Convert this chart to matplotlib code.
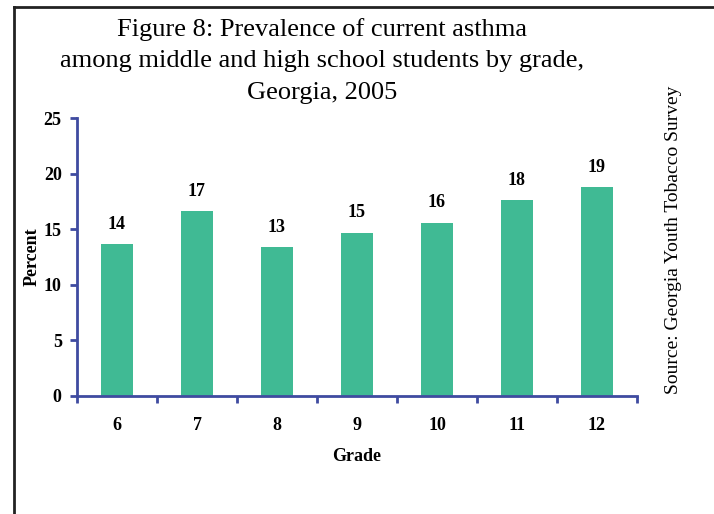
import matplotlib.pyplot as plt
from matplotlib.lines import Line2D

# Plot config
DPI = 100
WIDTH = 714.0
HEIGHT = 514.0
BAR_COLOR = '#40BA94'
AXIS_COLOR = '#3F4BA0'
FONT = 'Liberation Serif'

grades = ['6', '7', '8', '9', '10', '11', '12']
percent = [13.7, 16.6, 13.4, 14.7, 15.6, 17.6, 18.8]
bar_labels = ['14', '17', '13', '15', '16', '18', '19']
yticks = [0, 5, 10, 15, 20, 25]

TITLE = ('Figure 8: Prevalence of current asthma\n'
         'among middle and high school students by grade,\n'
         'Georgia, 2005')
SOURCE = 'Source: Georgia Youth Tobacco Survey'

plt.rcParams['font.family'] = FONT

fig = plt.figure(figsize=(WIDTH / DPI, HEIGHT / DPI), dpi=DPI)
ax = fig.add_axes([77 / WIDTH, 1 - 396 / HEIGHT, 560 / WIDTH, 278 / HEIGHT])

x = list(range(len(grades)))
ax.bar(x, percent, width=0.4, color=BAR_COLOR)
for xi, v, lab in zip(x, percent, bar_labels):
    ax.annotate(lab, (xi, v), xytext=(0, 8), textcoords='offset points',
                ha='center', va='bottom', fontsize=13, fontweight='bold')

ax.set_xlim(-0.5, len(grades) - 0.5)
ax.set_ylim(0, 25)
ax.set_yticks(yticks)
ax.set_yticklabels([str(t) for t in yticks], fontsize=13, fontweight='bold')
ax.set_xticks(x)
ax.set_xticklabels(grades, fontsize=13, fontweight='bold')
ax.set_xticks([i - 0.5 for i in range(len(grades) + 1)], minor=True)
ax.tick_params(axis='x', which='major', length=0, pad=15)
ax.tick_params(axis='x', which='minor', length=5, width=2, color=AXIS_COLOR)
ax.tick_params(axis='y', length=5, width=2, color=AXIS_COLOR, pad=6)

for side in ('top', 'right'):
    ax.spines[side].set_visible(False)
for side in ('left', 'bottom'):
    ax.spines[side].set_color(AXIS_COLOR)
    ax.spines[side].set_linewidth(2)

ax.set_xlabel('Grade', fontsize=13, fontweight='bold', labelpad=10)
ax.set_ylabel('Percent', fontsize=13, fontweight='bold', labelpad=2)

fig.text(322 / WIDTH, 1 - 61 / HEIGHT, TITLE, ha='center', va='center',
         fontsize=19, linespacing=1.58)
fig.text(673 / WIDTH, 1 - 240 / HEIGHT, SOURCE, rotation=90,
         ha='center', va='center', fontsize=14)

# frame around the figure
fig.add_artist(Line2D([14 / WIDTH, 14 / WIDTH], [0, 1 - 7 / HEIGHT],
                      transform=fig.transFigure, color='#222222', lw=2))
fig.add_artist(Line2D([14 / WIDTH, 1], [1 - 7 / HEIGHT, 1 - 7 / HEIGHT],
                      transform=fig.transFigure, color='#222222', lw=2))

plt.savefig('out.png', dpi=DPI)
